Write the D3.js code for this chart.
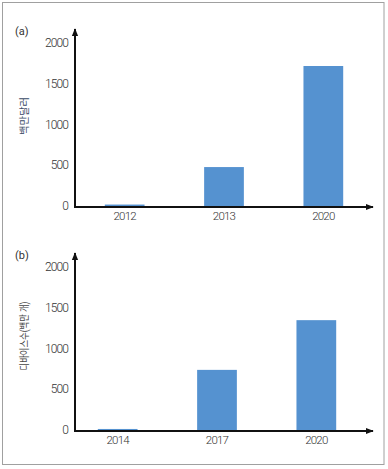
<!DOCTYPE html>
<html>
<head>
<meta charset="utf-8">
<script src="https://cdn.jsdelivr.net/npm/d3@7"></script>
<style>
  body { margin: 0; background: #fff; }
  text { font-family: Roboto, "Noto Sans CJK KR", sans-serif; fill: #333; }
</style>
</head>
<body>
<svg id="chart" width="388" height="469"></svg>
<script>
// panel (a)
var yearsA = ["2012", "2013", "2020"];
var valuesA = [30, 490, 1730];
// panel (b)
var yearsB = ["2014", "2017", "2020"];
var valuesB = [25, 750, 1360];
var yTicks = [0, 500, 1000, 1500, 2000];

var svg = d3.select("#chart");

svg.append("rect")
  .attr("x", 2.5).attr("y", 2.5)
  .attr("width", 381.5).attr("height", 462)
  .attr("fill", "none").attr("stroke", "#a0a0a0").attr("stroke-width", 1);

var defs = svg.append("defs");
defs.append("marker")
  .attr("id", "arrow")
  .attr("viewBox", "0 0 10 10")
  .attr("refX", 9).attr("refY", 5)
  .attr("markerWidth", 4).attr("markerHeight", 4)
  .attr("markerUnits", "strokeWidth")
  .attr("orient", "auto")
  .append("path").attr("d", "M0,1 L10,5 L0,9 Z").attr("fill", "#111");

function drawPanel(cfg) {
  var g = svg.append("g");

  var x = d3.scaleBand()
    .domain(cfg.years)
    .range([cfg.x0, cfg.x1])
    .paddingInner(0.6)
    .paddingOuter(0.3);

  var y = d3.scaleLinear()
    .domain([0, 2000])
    .range([cfg.y0, cfg.y0 - 163]);

  // bars
  g.selectAll("rect.bar")
    .data(cfg.values)
    .enter()
    .append("rect")
    .attr("class", "bar")
    .attr("x", function(d, i) { return x(cfg.years[i]); })
    .attr("y", function(d) { return y(d); })
    .attr("width", x.bandwidth())
    .attr("height", function(d) { return y(0) - y(d); })
    .attr("fill", "#5592d0");

  // y tick labels
  g.selectAll("text.ytick")
    .data(yTicks)
    .enter()
    .append("text")
    .attr("class", "ytick")
    .attr("x", 68)
    .attr("y", function(d) { return y(d) - 1; })
    .attr("dy", "0.35em")
    .attr("text-anchor", "end")
    .attr("font-size", 12)
    .attr("font-weight", 300)
    .attr("letter-spacing", -0.9)
    .text(function(d) { return d; });

  // x labels
  g.selectAll("text.xlab")
    .data(cfg.years)
    .enter()
    .append("text")
    .attr("class", "xlab")
    .attr("x", function(d) { return x(d) + x.bandwidth() / 2; })
    .attr("y", cfg.y0 + 13)
    .attr("text-anchor", "middle")
    .attr("font-size", 11.5)
    .attr("font-weight", 300)
    .attr("letter-spacing", -0.8)
    .text(function(d) { return d; });

  // axes with arrows
  g.append("line")
    .attr("x1", 75).attr("y1", cfg.y0)
    .attr("x2", 373).attr("y2", cfg.y0)
    .attr("stroke", "#111").attr("stroke-width", 2)
    .attr("marker-end", "url(#arrow)");
  g.append("line")
    .attr("x1", 75).attr("y1", cfg.y0 + 1)
    .attr("x2", 75).attr("y2", cfg.y0 - 178)
    .attr("stroke", "#111").attr("stroke-width", 2)
    .attr("marker-end", "url(#arrow)");

  // axis title
  g.append("text")
    .attr("transform", "translate(" + 28 + "," + cfg.titleY + ") rotate(-90)")
    .attr("text-anchor", "middle")
    .attr("font-size", 10)
    .attr("textLength", cfg.titleLen)
    .attr("lengthAdjust", "spacingAndGlyphs")
    .style("fill", cfg.titleColor)
    .text(cfg.title);

  // panel letter
  g.append("text")
    .attr("x", 15)
    .attr("y", cfg.y0 - 172)
    .attr("font-size", 11)
    .text(cfg.letter);
}

drawPanel({ years: yearsA, values: valuesA, x0: 75, x1: 373, y0: 207,
  title: "백만달러", titleY: 116, titleLen: 38, titleColor: "#3a4a66", letter: "(a)" });
drawPanel({ years: yearsB, values: valuesB, x0: 68, x1: 366, y0: 431,
  title: "디바이스수(백만 개)", titleY: 336, titleLen: 69, titleColor: "#444", letter: "(b)" });
</script>
</body>
</html>
